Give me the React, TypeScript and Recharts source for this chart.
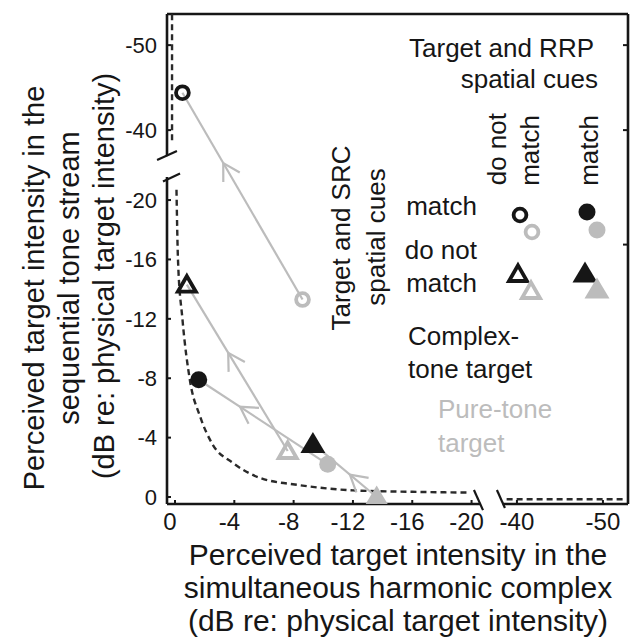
import React from "react";
import {
  ComposedChart,
  Line,
  ReferenceLine,
  Scatter,
  XAxis,
  YAxis,
} from "recharts";

// conditions: SRC cue relation / RRP cue relation
const conditionNames = [
  "SRC match, RRP do not match",
  "SRC do not match, RRP do not match",
  "SRC match, RRP match",
  "SRC do not match, RRP match",
];
const conditionShapes = ["circle", "triangle", "circle", "triangle"];
const conditionFilled = [false, false, true, true];

// perceived intensity (dB re: physical target), complex-tone target (black)
const complexX = [-0.5, -0.8, -1.6, -9.3];
const complexY = [-44.4, -14.3, -7.9, -3.6];
// pure-tone target (grey)
const pureX = [-8.6, -7.6, -10.3, -13.6];
const pureY = [-13.3, -3.1, -2.2, 0.0];
// arrowhead position along each path, 0 = complex-tone end
const arrowAt = [0.34, 0.41, 0.32, 0.58];

// dashed reference curve, one piece per axis panel
const refUpperX = [0.2, 0.2];
const refUpperY = [-38.8, -53.7];
const refLowerX = [-0.1, -0.2, -0.5, -1.0, -1.7, -2.5, -3.9, -5.7, -8.4, -12, -16, -19.8];
const refLowerY = [-20.7, -16, -12, -7.9, -5.4, -3.6, -2.3, -1.3, -0.8, -0.45, -0.35, -0.3];
const refRightX = [-38.8, -52.6];
const refRightY = [0.15, 0.15];

const xTickDb = [0, -4, -8, -12, -16, -20, -40, -50];
const yTickDb = [0, -4, -8, -12, -16, -20, -40, -50];
const topTickDb = [-10, -20, -30];
const rightTickDb = [-50, -40, -17];

const BLACK = "#161616";
const GREY = "#bcbcbc";
const FONT = "'Liberation Sans', Arial, Helvetica, sans-serif";

// broken axes: 0..-20 is linear, -40..-50 is squeezed onto the same axis
const PX_X = 14.83;
const PX_Y = 14.85;
const toU = (x: number) => {
  const m = -x;
  return m < 30 ? m : 23.06 + 0.58 * (m - 40);
};
const toV = (y: number) => {
  const m = -y;
  return m < 30 ? m : 24.71 + 0.5724 * (m - 40);
};
const U_MIN = -0.54;
const U_MAX = 30.55;
const V_MIN = -0.47;
const V_MAX = 32.53;

const xTicksU = xTickDb.map(toU);
const yTicksV = yTickDb.map(toV);
const rightTicksV = rightTickDb.map(toV);
const topTicksM = topTickDb.map((d) => -d);

const complexData = complexX.map((x, i) => ({
  u: toU(x),
  v: toV(complexY[i]),
  shape: conditionShapes[i],
  filled: conditionFilled[i],
  name: conditionNames[i],
}));
const pureData = pureX.map((x, i) => ({
  u: toU(x),
  v: toV(pureY[i]),
  shape: conditionShapes[i],
  filled: conditionFilled[i],
  name: conditionNames[i],
}));
const pathData = complexData.map((c, i) => [
  { u: c.u, v: c.v },
  { u: pureData[i].u, v: pureData[i].v },
]);
const arrowData = complexData.map((c, i) => {
  const p = pureData[i];
  const f = arrowAt[i];
  return {
    u: c.u + f * (p.u - c.u),
    v: c.v + f * (p.v - c.v),
    angle: Math.atan2(-(p.v - c.v) * PX_Y, (p.u - c.u) * PX_X),
  };
});

const toRef = (xs: number[], ys: number[]) =>
  xs.map((x, i) => ({ u: toU(x), v: toV(ys[i]) }));
const refUpper = toRef(refUpperX, refUpperY);
const refLower = toRef(refLowerX, refLowerY);
const refRight = toRef(refRightX, refRightY);

// frame pieces (u, v) with gaps at the breaks
const frame = [
  [{ x: U_MIN, y: V_MIN }, { x: U_MIN, y: 21.55 }],
  [{ x: U_MIN, y: 22.96 }, { x: U_MIN, y: V_MAX }],
  [{ x: U_MIN, y: V_MAX }, { x: U_MAX, y: V_MAX }],
  [{ x: U_MAX, y: V_MAX }, { x: U_MAX, y: V_MIN }],
  [{ x: U_MIN, y: V_MIN }, { x: 20.63, y: V_MIN }],
  [{ x: 22.1, y: V_MIN }, { x: U_MAX, y: V_MIN }],
];
const breakMarks = [
  [{ x: -1.21, y: 22.69 }, { x: 0.13, y: 23.3 }],
  [{ x: -0.81, y: 21.25 }, { x: 0.34, y: 21.78 }],
  [{ x: 20.16, y: 0.47 }, { x: 20.77, y: -0.88 }],
  [{ x: 21.71, y: 0.47 }, { x: 22.25, y: -0.74 }],
];

function Marker({ cx, cy, shape, filled, color }: any) {
  if (shape === "circle") {
    return filled ? (
      <circle cx={cx} cy={cy} r={8.5} fill={color} />
    ) : (
      <circle cx={cx} cy={cy} r={6.4} fill="none" stroke={color} strokeWidth={3.8} />
    );
  }
  if (filled) {
    return (
      <path
        d={`M${cx},${cy - 11.5}L${cx + 12.5},${cy + 9.5}L${cx - 12.5},${cy + 9.5}Z`}
        fill={color}
      />
    );
  }
  return (
    <path
      d={`M${cx},${cy - 8.6}L${cx + 9},${cy + 7}L${cx - 9},${cy + 7}Z`}
      fill="none"
      stroke={color}
      strokeWidth={3.8}
    />
  );
}

function Arrow({ cx, cy, payload }: any) {
  const L = 19;
  const a = payload.angle;
  const p1 = [cx + L * Math.cos(a + Math.PI / 6), cy + L * Math.sin(a + Math.PI / 6)];
  const p2 = [cx + L * Math.cos(a - Math.PI / 6), cy + L * Math.sin(a - Math.PI / 6)];
  return (
    <path
      d={`M${p1[0]},${p1[1]}L${cx},${cy}L${p2[0]},${p2[1]}`}
      fill="none"
      stroke={GREY}
      strokeWidth={2.2}
    />
  );
}

function LeftTick({ x, y, payload }: any) {
  const i = yTicksV.indexOf(payload.value);
  const ax = x + 10;
  return (
    <g>
      <line x1={ax} x2={ax + 4} y1={y} y2={y} stroke={BLACK} strokeWidth={2} />
      <text x={x} y={y} dy="0.35em" textAnchor="end" fontSize={22} fill={BLACK} fontFamily={FONT}>
        {yTickDb[i]}
      </text>
    </g>
  );
}

function BottomTick({ x, y, payload }: any) {
  const i = xTicksU.indexOf(payload.value);
  const ay = y - 9;
  // labels of the left panel sit a little left of their ticks
  const shift = xTickDb[i] >= -20 ? -5 : 0;
  return (
    <g>
      <line x1={x} x2={x} y1={ay} y2={ay - 4} stroke={BLACK} strokeWidth={2} />
      <text x={x + shift} y={y} dy="0.71em" textAnchor="middle" fontSize={24} fill={BLACK} fontFamily={FONT}>
        {xTickDb[i]}
      </text>
    </g>
  );
}

function TopTick({ x, y }: any) {
  const ay = y + 2;
  return <line x1={x} x2={x} y1={ay} y2={ay + 4} stroke={BLACK} strokeWidth={2} />;
}

function RightTick({ x, y }: any) {
  const ax = x - 2;
  return <line x1={ax} x2={ax - 5} y1={y} y2={y} stroke={BLACK} strokeWidth={2} />;
}

function Annotations() {
  const t = { fontFamily: FONT, fontSize: 26, fill: BLACK };
  const rot = (x: number, y: number) => `translate(${x},${y}) rotate(-90)`;
  return (
    <svg
      width={639}
      height={639}
      style={{ position: "absolute", left: 0, top: 0, pointerEvents: "none" }}
    >
      <text {...t} x={594} y={57} textAnchor="end">Target and RRP</text>
      <text {...t} x={598} y={88} textAnchor="end">spatial cues</text>
      <text {...t} transform={rot(506, 113)} textAnchor="end">do not</text>
      <text {...t} transform={rot(539, 115)} textAnchor="end">match</text>
      <text {...t} transform={rot(598, 115)} textAnchor="end">match</text>
      <text {...t} transform={rot(350, 238)} textAnchor="middle">Target and SRC</text>
      <text {...t} transform={rot(385, 237)} textAnchor="middle">spatial cues</text>
      <text {...t} x={477} y={215} textAnchor="end">match</text>
      <text {...t} x={477} y={259} textAnchor="end">do not</text>
      <text {...t} x={477} y={292} textAnchor="end">match</text>
      <text {...t} x={408} y={345}>Complex-</text>
      <text {...t} x={408} y={378}>tone target</text>
      <text {...t} x={438} y={418} fill={GREY}>Pure-tone</text>
      <text {...t} x={438} y={452} fill={GREY}>target</text>

      <Marker cx={520} cy={215} shape="circle" filled={false} color={BLACK} />
      <Marker cx={532} cy={232} shape="circle" filled={false} color={GREY} />
      <Marker cx={587} cy={212} shape="circle" filled color={BLACK} />
      <Marker cx={597} cy={230} shape="circle" filled color={GREY} />
      <Marker cx={518} cy={274} shape="triangle" filled={false} color={BLACK} />
      <Marker cx={531} cy={291} shape="triangle" filled={false} color={GREY} />
      <Marker cx={585} cy={273} shape="triangle" filled color={BLACK} />
      <Marker cx={597} cy={289} shape="triangle" filled color={GREY} />

      <g fontFamily={FONT} fontSize={29} fill={BLACK} textAnchor="middle">
        <text transform={rot(44, 288)}>Perceived target intensity in the</text>
        <text transform={rot(79, 278)}>sequential tone stream</text>
        <text transform={rot(114, 276)}>(dB re: physical target intensity)</text>
      </g>
      <g fontFamily={FONT} fontSize={30} fill={BLACK} textAnchor="middle">
        <text x={398} y={565}>Perceived target intensity in the</text>
        <text x={398} y={598}>simultaneous harmonic complex</text>
        <text x={398} y={631}>(dB re: physical target intensity)</text>
      </g>
    </svg>
  );
}

export default function App() {
  return (
    <div
      style={{
        position: "absolute",
        left: 0,
        top: 0,
        width: 639,
        height: 639,
        background: "#fff",
      }}
    >
      <ComposedChart
        width={639}
        height={639}
        margin={{ top: 13, right: 10, bottom: 134, left: 166 }}
      >
        <XAxis
          dataKey="u"
          type="number"
          domain={[U_MIN, U_MAX]}
          ticks={xTicksU}
          allowDataOverflow
          height={1}
          axisLine={false}
          tickLine={false}
          tickSize={7}
          tickMargin={2}
          tick={(p: any) => <BottomTick {...p} />}
          interval={0}
        />
        <XAxis
          xAxisId="top"
          orientation="top"
          type="number"
          domain={[-0.588, 53.65]}
          ticks={topTicksM}
          allowDataOverflow
          height={1}
          axisLine={false}
          tickLine={false}
          tickSize={0}
          tickMargin={0}
          tick={(p: any) => <TopTick {...p} />}
          interval={0}
        />
        <YAxis
          dataKey="v"
          type="number"
          domain={[V_MIN, V_MAX]}
          ticks={yTicksV}
          allowDataOverflow
          width={1}
          axisLine={false}
          tickLine={false}
          tickSize={8}
          tickMargin={2}
          tick={(p: any) => <LeftTick {...p} />}
          interval={0}
        />
        <YAxis
          yAxisId="right"
          orientation="right"
          type="number"
          domain={[V_MIN, V_MAX]}
          ticks={rightTicksV}
          allowDataOverflow
          width={1}
          axisLine={false}
          tickLine={false}
          tickSize={0}
          tickMargin={2}
          tick={(p: any) => <RightTick {...p} />}
          interval={0}
        />

        {frame.map((seg, i) => (
          <ReferenceLine
            key={`f${i}`}
            segment={seg}
            stroke={BLACK}
            strokeWidth={2.6}
            ifOverflow="visible"
          />
        ))}
        {breakMarks.map((seg, i) => (
          <ReferenceLine
            key={`b${i}`}
            segment={seg}
            stroke={BLACK}
            strokeWidth={2.2}
            ifOverflow="visible"
          />
        ))}

        <Line data={refUpper} dataKey="v" type="linear" stroke="#2a2a2a" strokeWidth={2.4}
          strokeDasharray="6 4" dot={false} isAnimationActive={false} />
        <Line data={refLower} dataKey="v" type="monotone" stroke="#2a2a2a" strokeWidth={2.4}
          strokeDasharray="6 4" dot={false} isAnimationActive={false} />
        <Line data={refRight} dataKey="v" type="linear" stroke="#2a2a2a" strokeWidth={2.4}
          strokeDasharray="6 4" dot={false} isAnimationActive={false} />

        {pathData.map((d, i) => (
          <Line
            key={`p${i}`}
            data={d}
            dataKey="v"
            type="linear"
            stroke={GREY}
            strokeWidth={2.2}
            dot={false}
            isAnimationActive={false}
          />
        ))}

        <Scatter data={arrowData} shape={(p: any) => <Arrow {...p} />} isAnimationActive={false} />
        <Scatter
          data={complexData}
          isAnimationActive={false}
          shape={(p: any) => (
            <Marker cx={p.cx} cy={p.cy} shape={p.payload.shape} filled={p.payload.filled} color={BLACK} />
          )}
        />
        <Scatter
          data={pureData}
          isAnimationActive={false}
          shape={(p: any) => (
            <Marker cx={p.cx} cy={p.cy} shape={p.payload.shape} filled={p.payload.filled} color={GREY} />
          )}
        />
      </ComposedChart>
      <Annotations />
    </div>
  );
}
